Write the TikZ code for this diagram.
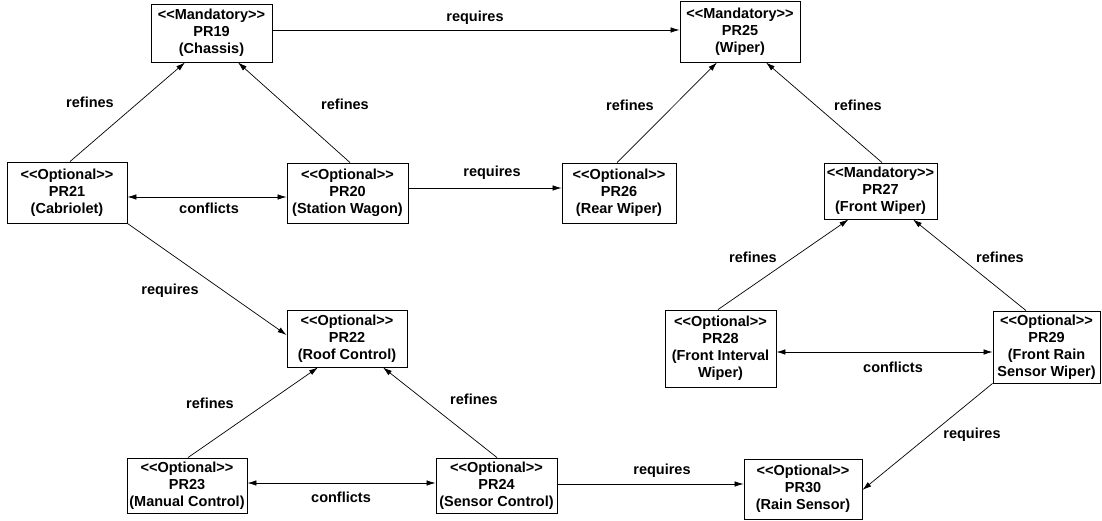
\documentclass[tikz,border=0pt]{standalone}
\usepackage{fontspec}
\setmainfont{Liberation Sans}
\usetikzlibrary{arrows.meta}
\newcommand{\stereo}[1]{<{}<#1>{}>}

\begin{document}
\begin{tikzpicture}[x=1pt,y=-1pt,
  prbox/.style={draw,line width=0.9pt,inner sep=0pt,align=center,
    font=\fontsize{14.5}{17}\selectfont\bfseries},
  lbl/.style={font=\fontsize{14.5}{16}\selectfont\bfseries},
  rel/.style={line width=0.7pt,-{Latex[length=9pt,width=5.5pt]}},
  both/.style={line width=0.7pt,{Latex[length=9pt,width=5.5pt]}-{Latex[length=9pt,width=5.5pt]}}]
  \useasboundingbox (0,0) rectangle (1102,521);

  % Chassis group
  \node[prbox,minimum width=121pt,minimum height=58pt] (pr19) at (211.5,33) {\stereo{Mandatory}\\PR19\\(Chassis)};
  \node[prbox,minimum width=120pt,minimum height=61pt] (pr21) at (67,192.5) {\stereo{Optional}\\PR21\\(Cabriolet)};
  \node[prbox,minimum width=121pt,minimum height=60pt] (pr20) at (347.5,193) {\stereo{Optional}\\PR20\\(Station Wagon)};
  \node[prbox,minimum width=120pt,minimum height=57pt] (pr22) at (347,338.5) {\stereo{Optional}\\PR22\\(Roof Control)};
  \node[prbox,minimum width=120pt,minimum height=55pt] (pr23) at (187,485.5) {\stereo{Optional}\\PR23\\(Manual Control)};
  \node[prbox,minimum width=121pt,minimum height=55pt] (pr24) at (496.5,485.5) {\stereo{Optional}\\PR24\\(Sensor Control)};

  % Wiper group
  \node[prbox,minimum width=120pt,minimum height=61pt] (pr25) at (740,31.5) {\stereo{Mandatory}\\PR25\\(Wiper)};
  \node[prbox,minimum width=114pt,minimum height=60pt] (pr26) at (619,193) {\stereo{Optional}\\PR26\\(Rear Wiper)};
  \node[prbox,minimum width=113pt,minimum height=56pt] (pr27) at (880.5,191) {\stereo{Mandatory}\\PR27\\(Front Wiper)};
  \node[prbox,minimum width=111pt,minimum height=77pt] (pr28) at (720.5,348.5) {\stereo{Optional}\\PR28\\(Front Interval\\Wiper)};
  \node[prbox,minimum width=107pt,minimum height=72pt] (pr29) at (1046.5,347) {\stereo{Optional}\\PR29\\(Front Rain\\Sensor Wiper)};
  \node[prbox,minimum width=118pt,minimum height=60pt] (pr30) at (803,489) {\stereo{Optional}\\PR30\\(Rain Sensor)};

  % refines
  \draw[rel] ([xshift=3pt]pr21.north) -- ([xshift=-26.5pt]pr19.south);
  \draw[rel] ([xshift=2.5pt]pr20.north) -- ([xshift=26.5pt]pr19.south);
  \draw[rel] ([xshift=-2pt]pr26.north) -- ([xshift=-23pt]pr25.south);
  \draw[rel] ([xshift=1.5pt]pr27.north) -- ([xshift=26pt]pr25.south);
  \draw[rel] ([xshift=1pt]pr23.north) -- ([xshift=-29pt]pr22.south);
  \draw[rel] ([xshift=0.5pt]pr24.north) -- ([xshift=36pt]pr22.south);
  \draw[rel] ([xshift=-2.5pt]pr28.north) -- ([xshift=-32pt]pr27.south);
  \draw[rel] ([xshift=-20.5pt]pr29.north) -- ([xshift=32.5pt]pr27.south);
  \node[lbl] (r1) at (90,102) {refines};
  \node[lbl] (r2) at (345,104) {refines};
  \node[lbl] (r3) at (630,105) {refines};
  \node[lbl] (r4) at (858,105) {refines};
  \node[lbl] (r5) at (210,403) {refines};
  \node[lbl] (r6) at (474,399) {refines};
  \node[lbl] (r7) at (753,257) {refines};
  \node[lbl] (r8) at (1000,257) {refines};

  % requires
  \draw[rel] ([yshift=3pt]pr19.east) -- ([yshift=3pt]pr19.east -| pr25.west);
  \draw[rel] ([yshift=5pt]pr20.east) -- ([yshift=5pt]pr20.east -| pr26.west);
  \draw[rel] (pr21.south east) -- ([yshift=3.5pt]pr22.west);
  \draw[rel] ([yshift=1.5pt]pr24.east) -- ([yshift=1.5pt]pr24.east -| pr30.west);
  \draw[rel] (pr29.south west) -- ([yshift=-1pt]pr30.east);
  \node[lbl] (q1) at (475,18) {requires};
  \node[lbl] (q2) at (492,173) {requires};
  \node[lbl] (q3) at (170,291) {requires};
  \node[lbl] (q4) at (662,471) {requires};
  \node[lbl] (q5) at (972,435) {requires};

  % conflicts
  \draw[both] ([yshift=-4.5pt]pr21.east) -- ([yshift=-4.5pt]pr21.east -| pr20.west);
  \draw[both] ([yshift=2.5pt]pr23.east) -- ([yshift=2.5pt]pr23.east -| pr24.west);
  \draw[both] ([yshift=-3.5pt]pr28.east) -- ([yshift=-3.5pt]pr28.east -| pr29.west);
  \node[lbl] (c1) at (209,208) {conflicts};
  \node[lbl] (c2) at (341,497) {conflicts};
  \node[lbl] (c3) at (893,367) {conflicts};
\end{tikzpicture}
\end{document}
